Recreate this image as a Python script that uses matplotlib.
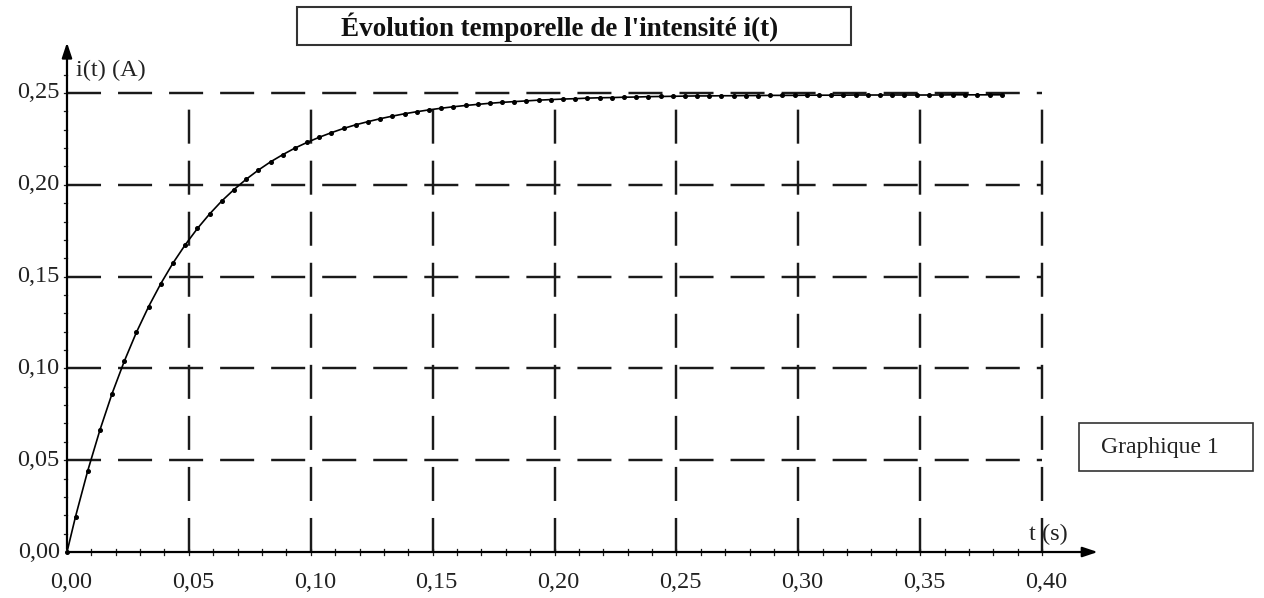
# Evolution temporelle de l'intensite i(t) - graphique 1
import matplotlib.pyplot as plt
from matplotlib.patches import Rectangle

t_s = [0.0, 0.0035, 0.0085, 0.0135, 0.0185, 0.0235, 0.0285, 0.0335, 0.0385,
       0.0435, 0.0485, 0.0535, 0.0585, 0.0635, 0.0685, 0.0735, 0.0785,
       0.0835, 0.0885, 0.0935, 0.0985, 0.1035, 0.1085, 0.1135, 0.1185,
       0.1235, 0.1285, 0.1335, 0.1385, 0.1435, 0.1485, 0.1535, 0.1585,
       0.1635, 0.1685, 0.1735, 0.1785, 0.1835, 0.1885, 0.1935, 0.1985,
       0.2035, 0.2085, 0.2135, 0.2185, 0.2235, 0.2285, 0.2335, 0.2385,
       0.2435, 0.2485, 0.2535, 0.2585, 0.2635, 0.2685, 0.2735, 0.2785,
       0.2835, 0.2885, 0.2935, 0.2985, 0.3035, 0.3085, 0.3135, 0.3185,
       0.3235, 0.3285, 0.3335, 0.3385, 0.3435, 0.3485, 0.3535, 0.3585,
       0.3635, 0.3685, 0.3735, 0.3785, 0.3835]
i_A = [0.0, 0.0193, 0.0442, 0.0664, 0.0863, 0.1039, 0.1197, 0.1337, 0.1462,
       0.1574, 0.1673, 0.1762, 0.1841, 0.1912, 0.1974, 0.2030, 0.2080,
       0.2125, 0.2164, 0.2200, 0.2231, 0.2259, 0.2284, 0.2307, 0.2327,
       0.2344, 0.2360, 0.2374, 0.2387, 0.2398, 0.2408, 0.2417, 0.2425,
       0.2432, 0.2438, 0.2444, 0.2449, 0.2453, 0.2457, 0.2461, 0.2464,
       0.2467, 0.2469, 0.2472, 0.2474, 0.2475, 0.2477, 0.2478, 0.2480,
       0.2481, 0.2482, 0.2483, 0.2484, 0.2484, 0.2485, 0.2485, 0.2486,
       0.2486, 0.2487, 0.2487, 0.2487, 0.2488, 0.2488, 0.2488, 0.2488,
       0.2489, 0.2489, 0.2489, 0.2489, 0.2489, 0.2489, 0.2489, 0.2489,
       0.2490, 0.2490, 0.2490, 0.2490, 0.2490]

x_ticks = [0.00, 0.05, 0.10, 0.15, 0.20, 0.25, 0.30, 0.35, 0.40]
y_ticks = [0.00, 0.05, 0.10, 0.15, 0.20, 0.25]
x_labels = ["0,00", "0,05", "0,10", "0,15", "0,20", "0,25", "0,30", "0,35", "0,40"]
y_labels = ["0,00", "0,05", "0,10", "0,15", "0,20", "0,25"]

serif = "Liberation Serif"
ink = "#1a1a1a"

fig = plt.figure(figsize=(12.64, 5.98), dpi=100)
ax = fig.add_axes([0.0530, 0.0769, 0.7714, 0.7676])
ax.set_xlim(0, 0.40)
ax.set_ylim(0, 0.25)
for s in ax.spines.values():
    s.set_visible(False)
ax.set_xticks([])
ax.set_yticks([])

# dashed grid
dash = (0, (14, 7))
for y in y_ticks[1:]:
    ax.plot([0, 0.40], [y, y], color=ink, lw=1.75, ls=dash, clip_on=False)
for x in x_ticks[1:]:
    ax.plot([x, x], [0, 0.25], color=ink, lw=1.75, ls=dash, clip_on=False)

# axes with arrows
ax.annotate("", xy=(0.424, 0), xytext=(0, 0),
            arrowprops=dict(arrowstyle="-|>,head_length=0.9,head_width=0.3",
                            color="black", lw=1.6), annotation_clip=False)
ax.annotate("", xy=(0, 0.279), xytext=(0, 0),
            arrowprops=dict(arrowstyle="-|>,head_length=0.9,head_width=0.3",
                            color="black", lw=1.6), annotation_clip=False)

# minor ticks
for k in range(1, 41):
    x = k * 0.01
    ax.plot([x, x], [-0.0015, 0.0015], color=ink, lw=0.9, clip_on=False)
for k in range(1, 27):
    y = k * 0.01
    ax.plot([-0.0013, 0], [y, y], color=ink, lw=0.9, clip_on=False)

# tick labels
for x, lab in zip(x_ticks, x_labels):
    ax.text(x + 0.0017, -0.0110, lab, ha="center", va="top", fontsize=17.5,
            family=serif, color="#222222")
for y, lab in zip(y_ticks, y_labels):
    ax.text(-0.0030, y, lab, ha="right", va="center", fontsize=17.5,
            family=serif, color="#222222")

# curve
ax.plot(t_s, i_A, color="black", lw=1.2, marker="o", ms=2.6, clip_on=False)

# axis labels
ax.text(0.0035, 0.2625, "i(t) (A)", ha="left", va="center", fontsize=17.5,
        family=serif, color="#222222")
ax.text(0.4025, 0.0095, "t (s)", ha="center", va="center", fontsize=17.5,
        family=serif, color="#222222")

# title box
fig.patches.append(Rectangle((297 / 1264, 1 - 45 / 598), 554 / 1264, 38 / 598,
                             transform=fig.transFigure, fill=False,
                             edgecolor="#333333", lw=1.5))
fig.text(560 / 1264, 1 - 27 / 598, "Évolution temporelle de l'intensité i(t)",
         ha="center", va="center", fontsize=19.5, fontweight="bold",
         family=serif, color="#111111")

# graphique 1 box
fig.patches.append(Rectangle((1079 / 1264, 1 - 471 / 598), 174 / 1264, 48 / 598,
                             transform=fig.transFigure, fill=False,
                             edgecolor="#333333", lw=1.2))
fig.text(1160 / 1264, 1 - 447 / 598, "Graphique 1", ha="center", va="center",
         fontsize=17, family=serif, color="#222222")

fig.savefig("out.png", dpi=100)
plt.close(fig)
